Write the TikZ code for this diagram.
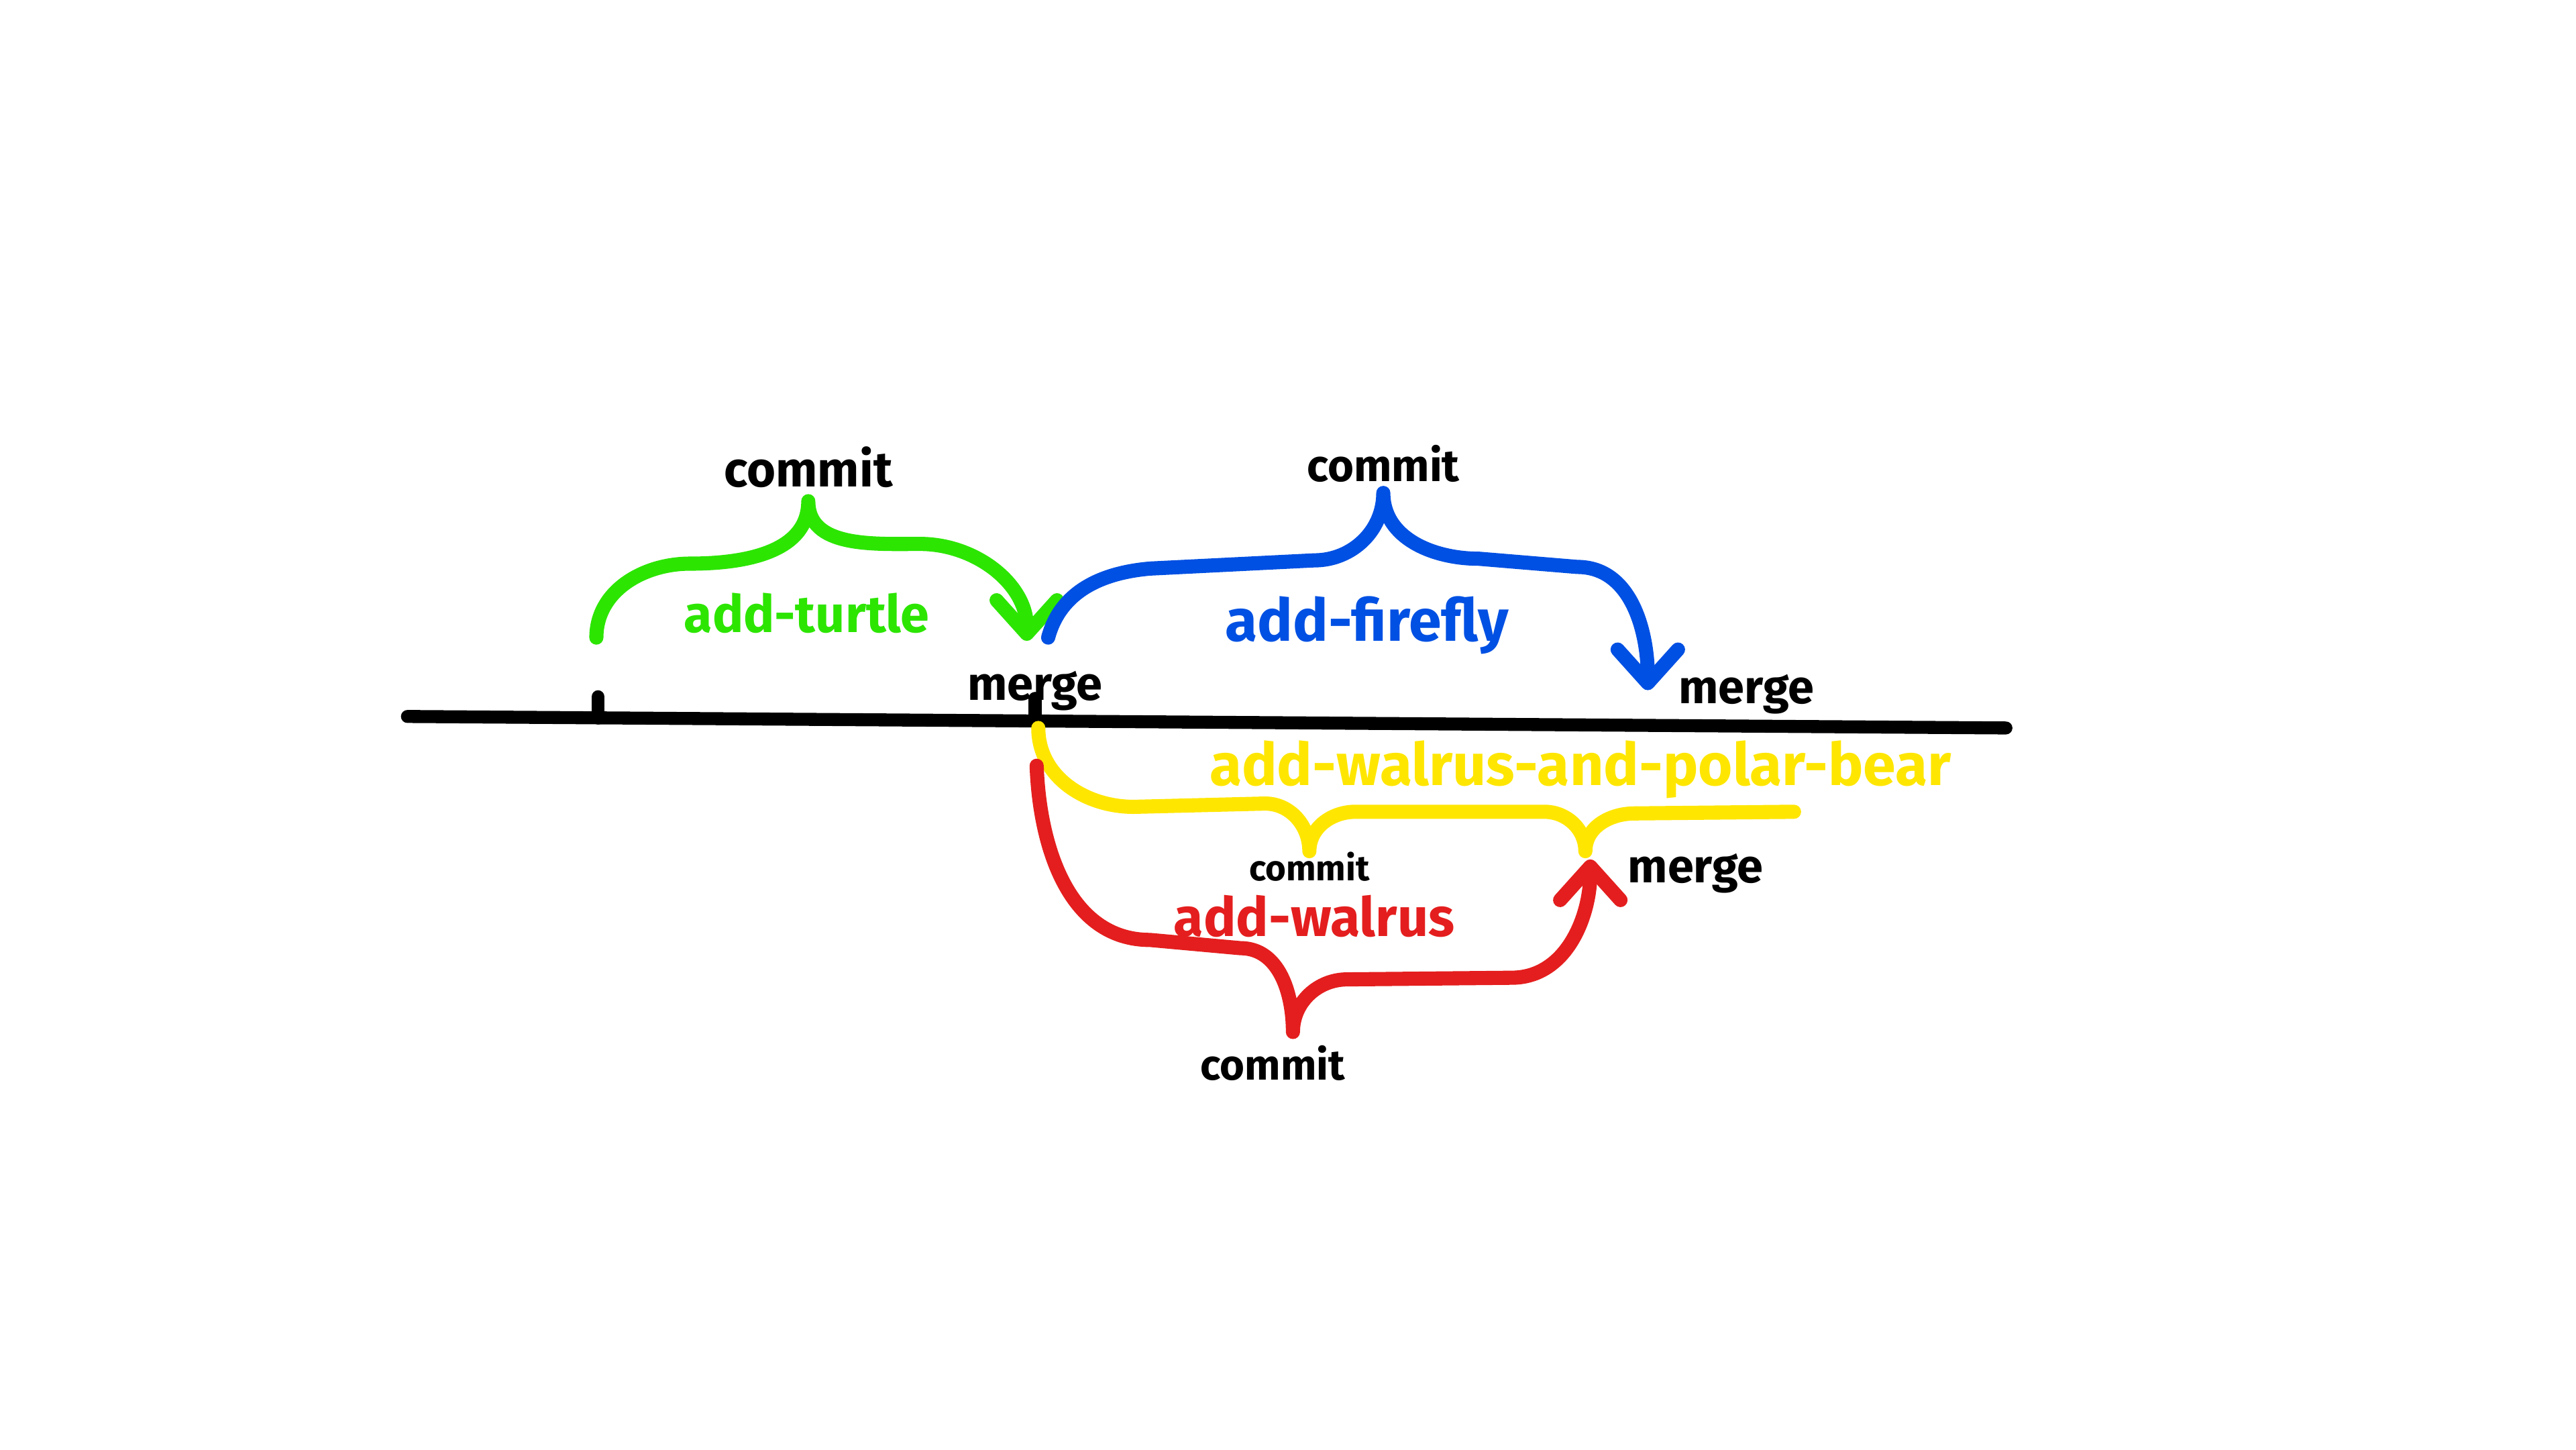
\documentclass[tikz,border=0pt]{standalone}
\usepackage{fontspec}
\setmainfont{Fira Sans}
\usetikzlibrary{positioning, arrows.meta}
\definecolor{turtlegreen}{RGB}{44,229,0}
\definecolor{fireflyblue}{RGB}{0,80,227}
\definecolor{polaryellow}{RGB}{255,230,0}
\definecolor{walrusred}{RGB}{228,30,30}
\tikzset{
x=0.2449mm, y=0.2449mm, % one unit is one pixel of the sketch
>={Straight Barb[length=5mm, width=9mm, round]}, % open arrow heads
branch/.style={line width=6pt, line cap=round, line join=round}, % the marker strokes
trunk/.style={line width=5.5pt, line cap=round}, % the main line and its ticks
word/.style={inner sep=0pt, font=\bfseries\fontsize{#1}{#1}\selectfont},
word/.default=22,
}
\begin{document}
\begin{tikzpicture}
    \useasboundingbox (0,0) rectangle (1568,-882);
    % main line
    \coordinate (start) at (248,-436);
    \coordinate (end) at (1221,-443);
    \coordinate (t0) at (364,-437);
    \coordinate (t1) at (364,-424);
    \coordinate (t2) at (630,-438);
    \coordinate (t3) at (630,-425);
    \draw[trunk] (start) -- (end);
    \draw[trunk] (t0) -- (t1);
    \draw[trunk] (t2) -- (t3);
    % add-turtle
    \coordinate (g0) at (363,-388);
    \coordinate (g1) at (420,-343);
    \coordinate (g2) at (492,-305);
    \coordinate (g3) at (560,-331);
    \coordinate (g4) at (625,-390);
    \draw[branch, turtlegreen, ->] (g0) to[out=90,in=180] (g1) to[out=0,in=-90] (g2)
        to[out=-90,in=180] (g3) to[out=0,in=90] (g4);
    % add-firefly
    \coordinate (b0) at (638,-388);
    \coordinate (b1) at (700,-346);
    \coordinate (b2) at (800,-341);
    \coordinate (b3) at (842,-300);
    \coordinate (b4) at (900,-340);
    \coordinate (b5) at (960,-345);
    \coordinate (b6) at (1003,-420);
    \draw[branch, fireflyblue, ->] (b0) to[out=75,in=185] (b1) -- (b2) to[out=0,in=-90] (b3)
        to[out=-90,in=180] (b4) -- (b5) to[out=0,in=90] (b6);
    % add-walrus-and-polar-bear
    \coordinate (y0) at (632,-443);
    \coordinate (y1) at (690,-491);
    \coordinate (y2) at (770,-489);
    \coordinate (y3) at (797,-518);
    \coordinate (y4) at (825,-494);
    \coordinate (y5) at (940,-494);
    \coordinate (y6) at (965,-518);
    \coordinate (y7) at (995,-495);
    \coordinate (y8) at (1092,-494);
    \draw[branch, polaryellow] (y0) to[out=-90,in=180] (y1) -- (y2) to[out=0,in=90] (y3)
        to[out=90,in=180] (y4) -- (y5) to[out=0,in=90] (y6)
        to[out=90,in=180] (y7) -- (y8);
    % add-walrus
    \coordinate (r0) at (631,-466);
    \coordinate (r1) at (700,-572);
    \coordinate (r2) at (755,-577);
    \coordinate (r3) at (787,-628);
    \coordinate (r4) at (820,-596);
    \coordinate (r5) at (920,-595);
    \coordinate (r6) at (968,-523);
    \draw[branch, walrusred, ->] (r0) to[out=-88,in=180] (r1) -- (r2) to[out=0,in=90] (r3)
        to[out=90,in=180] (r4) -- (r5) to[out=0,in=-90] (r6);
    % labels
    \node[word=21, above=2mm of g2] (c1) {commit};
    \node[word=19, above=1.5mm of b3] (c2) {commit};
    \node[word=15, below=0mm of y3] (c3) {commit};
    \node[word=18, below=2mm of r3, xshift=-3mm] (c4) {commit};
    \node[word=20, anchor=base] (m1) at (630,-426) {merge};
    \node[word=20, anchor=base] (m2) at (1063,-428) {merge};
    \node[word=20, anchor=base] (m3) at (1032,-537) {merge};
    \node[word, turtlegreen, anchor=base] (turtle) at (491,-385) {add-turtle};
    \node[word=25, fireflyblue, anchor=base] (firefly) at (832,-390) {add-firefly};
    \node[word=23, walrusred, anchor=base] (walrus) at (800,-570) {add-walrus};
    \node[word=25, polaryellow, anchor=base] (polar) at (962,-478) {add-walrus-and-polar-bear};
\end{tikzpicture}
\end{document}
